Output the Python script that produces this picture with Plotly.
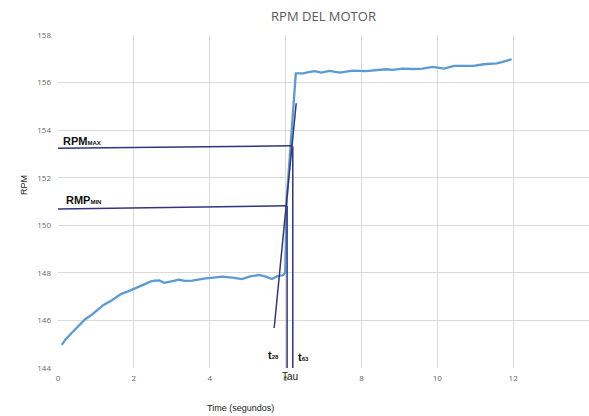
import plotly.graph_objects as go

# ---- data ----
time_s = [0.1, 0.2, 0.36, 0.5, 0.71, 0.9, 1.05, 1.2, 1.4, 1.55, 1.67, 1.85, 2.02, 2.19, 2.3, 2.45,
          2.55, 2.67, 2.8, 2.9, 3.02, 3.19, 3.35, 3.54, 3.7, 3.89, 4.1, 4.33, 4.6, 4.85, 5.07, 5.29,
          5.46, 5.64, 5.77, 5.94, 5.99, 6.03, 6.08, 6.12, 6.2, 6.27, 6.47, 6.6, 6.77, 6.94, 7.16,
          7.43, 7.6, 7.77, 8.12, 8.3, 8.47, 8.65, 8.82, 9.08, 9.35, 9.61, 9.87, 10.0, 10.18, 10.44,
          10.7, 10.96, 11.22, 11.4, 11.57, 11.7, 11.83, 11.96]
rpm = [144.97, 145.2, 145.47, 145.7, 146.04, 146.25, 146.47, 146.65, 146.83, 147.0, 147.12, 147.22,
       147.33, 147.47, 147.52, 147.64, 147.67, 147.68, 147.58, 147.6, 147.65, 147.71, 147.66, 147.67,
       147.72, 147.77, 147.8, 147.84, 147.8, 147.74, 147.85, 147.91, 147.85, 147.74, 147.85, 147.91,
       148.0, 151.07, 152.2, 153.24, 154.85, 156.39, 156.39, 156.44, 156.48, 156.42, 156.49, 156.42,
       156.46, 156.5, 156.48, 156.5, 156.53, 156.56, 156.53, 156.59, 156.57, 156.59, 156.66, 156.64,
       156.59, 156.7, 156.7, 156.7, 156.77, 156.78, 156.81, 156.86, 156.91, 156.98]

# construction lines
rpm_max_x = [0, 6.17]
rpm_max_y = [153.24, 153.34]
rpm_min_x = [0, 6.03]
rpm_min_y = [150.68, 150.82]
t28_x = [6.04, 6.04]
t28_y = [150.8, 143.95]
t63_x = [6.19, 6.19]
t63_y = [153.32, 143.95]
tangent_x = [5.70, 6.28]
tangent_y = [145.68, 155.13]

x_ticks = [0, 2, 4, 6, 8, 10, 12, 14]
y_ticks = [144, 146, 148, 150, 152, 154, 156, 158]

navy = "#34347e"
fig = go.Figure()
fig.add_trace(go.Scatter(x=time_s, y=rpm, mode="lines",
                         line=dict(color="#5b9bd5", width=2.3), showlegend=False))
for xs, ys in [(rpm_max_x, rpm_max_y), (rpm_min_x, rpm_min_y), (t28_x, t28_y),
               (t63_x, t63_y), (tangent_x, tangent_y)]:
    fig.add_trace(go.Scatter(x=xs, y=ys, mode="lines", line=dict(color=navy, width=1.5),
                             showlegend=False, cliponaxis=False))

lab_font = dict(family="Liberation Sans, Arial", size=11, color="#111111")
fig.add_annotation(x=0.08, y=153.55, text="<b>RPM</b><span style='font-size:6px'><b>MAX</b></span>",
                   showarrow=False, xanchor="left", font=lab_font)
fig.add_annotation(x=0.16, y=151.07, text="<b>RMP</b><span style='font-size:6px'><b>MIN</b></span>",
                   showarrow=False, xanchor="left", font=lab_font)
fig.add_annotation(x=5.68, y=144.55, text="<b>t</b><span style='font-size:6px'><b>28</b></span>",
                   showarrow=False, font=lab_font)
fig.add_annotation(x=6.47, y=144.45, text="<b>t</b><span style='font-size:6px'><b>63</b></span>",
                   showarrow=False, font=lab_font)
fig.add_annotation(x=6.12, y=-0.003, yref="paper", yanchor="top", text="Tau", showarrow=False,
                   font=dict(family="Liberation Sans, Arial", size=10, color="#222222"))
# axis titles (placed as in the reference)
fig.add_annotation(x=-0.077, y=0.55, xref="paper", yref="paper", text="RPM", showarrow=False,
                   textangle=-90, font=dict(family="Liberation Sans, Arial", size=9, color="#222222"))
fig.add_annotation(x=0.343, y=-0.12, xref="paper", yref="paper", text="Time (segundos)",
                   showarrow=False, yanchor="middle",
                   font=dict(family="Liberation Sans, Arial", size=9, color="#222222"))

fig.update_layout(
    width=589, height=416,
    margin=dict(l=58, r=0, t=35, b=48),
    paper_bgcolor="white", plot_bgcolor="white",
    title=dict(text="RPM DEL MOTOR", x=0.5, xref="paper", y=0.96, yanchor="middle",
               font=dict(family="Open Sans", size=13, color="#595959")),
    font=dict(family="Open Sans", size=8, color="#666666"),
    xaxis=dict(range=[0, 14], tickvals=x_ticks, showgrid=True, gridcolor="#d9d9d9",
               zeroline=False, showline=False, ticks="", ticklabelstandoff=4),
    yaxis=dict(range=[144, 158], tickvals=y_ticks, showgrid=True, gridcolor="#d9d9d9",
               zeroline=False, showline=False, ticks="", ticklabelstandoff=6),
)
fig.write_html("out.html")
